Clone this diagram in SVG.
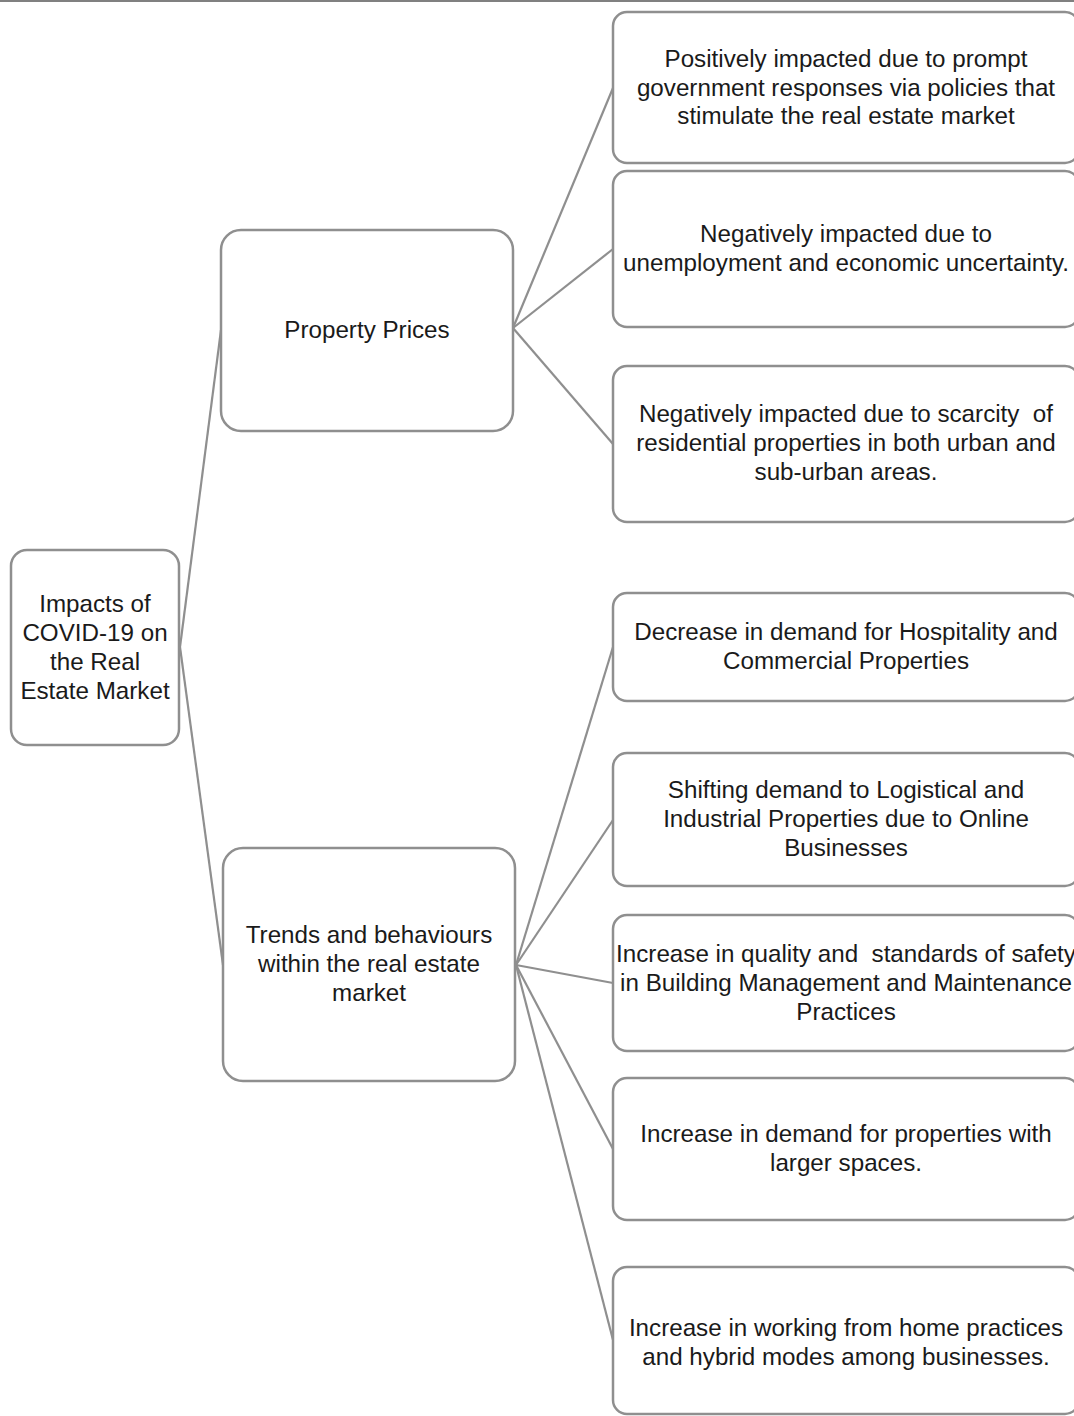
<svg xmlns="http://www.w3.org/2000/svg" width="1074" height="1416" viewBox="0 0 1074 1416">
<style>
.box{fill:#fff;stroke:#8f8f8f;stroke-width:2.5}
.t{font-family:"Liberation Sans",Arial,sans-serif;font-size:24.2px;fill:#1a1a1a;text-anchor:middle}
.c{stroke:#8f8f8f;stroke-width:2.2;fill:none}
</style>
<rect width="1074" height="1416" fill="#fff"/>
<line x1="0" y1="1" x2="1074" y2="1" stroke="#808080" stroke-width="2"/>
<g id="connectors">
<line class="c" x1="180" y1="647" x2="221" y2="330"/>
<line class="c" x1="180" y1="647" x2="223" y2="965"/>
<line class="c" x1="513" y1="328" x2="613" y2="88"/>
<line class="c" x1="513" y1="328" x2="613" y2="249"/>
<line class="c" x1="513" y1="328" x2="613" y2="444"/>
<line class="c" x1="516" y1="965" x2="613" y2="647"/>
<line class="c" x1="516" y1="965" x2="613" y2="820"/>
<line class="c" x1="516" y1="965" x2="613" y2="983"/>
<line class="c" x1="516" y1="965" x2="613" y2="1149"/>
<line class="c" x1="516" y1="965" x2="613" y2="1340"/>
</g>
<g id="root">
<rect class="box" x="11" y="550" width="168" height="195" rx="16"/>
<text class="t" x="95" y="612">Impacts of</text>
<text class="t" x="95" y="641">COVID-19 on</text>
<text class="t" x="95" y="670">the Real</text>
<text class="t" x="95" y="699">Estate Market</text>
</g>
<g id="property-prices">
<rect class="box" x="221" y="230" width="292" height="201" rx="20"/>
<text class="t" x="367" y="338">Property Prices</text>
</g>
<g id="trends">
<rect class="box" x="223" y="848" width="292" height="233" rx="20"/>
<text class="t" x="369" y="943">Trends and behaviours</text>
<text class="t" x="369" y="972">within the real estate</text>
<text class="t" x="369" y="1001">market</text>
</g>
<g id="pp1">
<rect class="box" x="613" y="12" width="466" height="151" rx="14"/>
<text class="t" x="846" y="67">Positively impacted due to prompt</text>
<text class="t" x="846" y="96">government responses via policies that</text>
<text class="t" x="846" y="124">stimulate the real estate market</text>
</g>
<g id="pp2">
<rect class="box" x="613" y="171" width="466" height="156" rx="14"/>
<text class="t" x="846" y="242">Negatively impacted due to</text>
<text class="t" x="846" y="271">unemployment and economic uncertainty.</text>
</g>
<g id="pp3">
<rect class="box" x="613" y="366" width="466" height="156" rx="14"/>
<text class="t" x="846" y="422" xml:space="preserve">Negatively impacted due to scarcity  of</text>
<text class="t" x="846" y="451">residential properties in both urban and</text>
<text class="t" x="846" y="480">sub-urban areas.</text>
</g>
<g id="tr1">
<rect class="box" x="613" y="593" width="466" height="108" rx="14"/>
<text class="t" x="846" y="640">Decrease in demand for Hospitality and</text>
<text class="t" x="846" y="669">Commercial Properties</text>
</g>
<g id="tr2">
<rect class="box" x="613" y="753" width="466" height="133" rx="14"/>
<text class="t" x="846" y="798">Shifting demand to Logistical and</text>
<text class="t" x="846" y="827">Industrial Properties due to Online</text>
<text class="t" x="846" y="856">Businesses</text>
</g>
<g id="tr3">
<rect class="box" x="613" y="915" width="466" height="136" rx="14"/>
<text class="t" x="846" y="962" xml:space="preserve">Increase in quality and  standards of safety</text>
<text class="t" x="846" y="991">in Building Management and Maintenance</text>
<text class="t" x="846" y="1020">Practices</text>
</g>
<g id="tr4">
<rect class="box" x="613" y="1078" width="466" height="142" rx="14"/>
<text class="t" x="846" y="1142">Increase in demand for properties with</text>
<text class="t" x="846" y="1171">larger spaces.</text>
</g>
<g id="tr5">
<rect class="box" x="613" y="1267" width="466" height="147" rx="14"/>
<text class="t" x="846" y="1336">Increase in working from home practices</text>
<text class="t" x="846" y="1365">and hybrid modes among businesses.</text>
</g>
</svg>
